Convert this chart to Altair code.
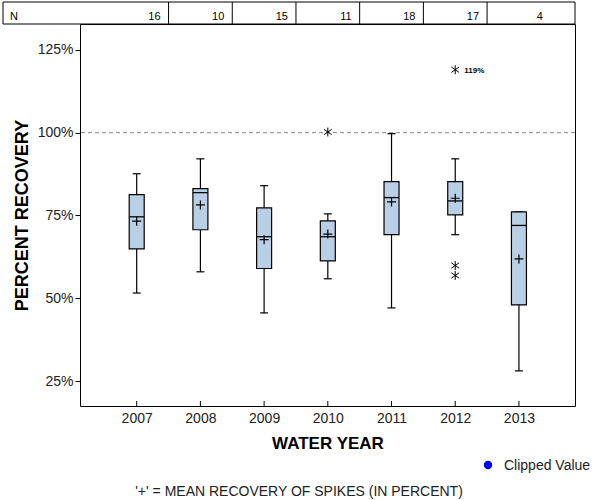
import altair as alt
import pandas as pd

# ---- data ----
years = [2007, 2008, 2009, 2010, 2011, 2012, 2013]
n_counts = [16, 10, 15, 11, 18, 17, 4]
whisk_lo = [51.6, 58.0, 45.6, 55.9, 47.1, 69.2, 28.1]
q1 = [64.9, 70.7, 59.0, 61.3, 69.2, 75.2, 48.0]
median = [74.6, 81.9, 68.6, 68.6, 80.4, 79.4, 72.0]
q3 = [81.3, 83.1, 77.3, 73.4, 85.2, 85.2, 76.1]
whisk_hi = [87.6, 92.1, 84.0, 75.5, 99.7, 92.1, 76.1]
means = [73.3, 78.2, 67.7, 69.4, 79.1, 80.2, 61.9]

outlier_years = [2010, 2012, 2012]
outlier_vals = [100.2, 59.9, 56.9]

clipped_years = [2012]
clipped_vals = [119.0]
clipped_labels = ["119%"]

ref_value = [100]
y_ticks = [25, 50, 75, 100, 125]

X_MIN, X_MAX = 2006.11, 2013.88
Y_MIN, Y_MAX = 17.5, 132.8
W, H = 495, 382
FONT = "Liberation Sans"
BOX_FILL = "#b9cfe6"

box = pd.DataFrame({"year": years, "n": n_counts, "lo": whisk_lo, "q1": q1,
                    "med": median, "q3": q3, "hi": whisk_hi, "mean": means})
outl = pd.DataFrame({"year": outlier_years, "val": outlier_vals})
clip = pd.DataFrame({"year": clipped_years, "val": clipped_vals, "lab": clipped_labels})
ref = pd.DataFrame({"v": ref_value})

xs = alt.Scale(domain=[X_MIN, X_MAX], nice=False, zero=False, padding=0)
ys = alt.Scale(domain=[Y_MIN, Y_MAX], nice=False, zero=False, padding=0)

x_axis = alt.Axis(values=years, format="d", ticks=False, domain=False, grid=False,
                  labelFont=FONT, labelFontSize=14, labelColor="#222", labelPadding=5,
                  title="WATER YEAR", titleFont=FONT, titleFontSize=17, titleFontWeight="bold",
                  titleColor="black", titlePadding=10)
y_axis = alt.Axis(values=y_ticks, labelExpr="datum.value + '%'", tickSize=5, tickColor="black",
                  domain=False, grid=False, labelFont=FONT, labelFontSize=14, labelColor="#222",
                  labelPadding=2, title="PERCENT RECOVERY", titleFont=FONT, titleFontSize=18,
                  titleFontWeight="bold", titleColor="black", titlePadding=6)


def XF(field="year"):
    return alt.X(f"{field}:Q", scale=xs, axis=x_axis)


def YF(field):
    return alt.Y(f"{field}:Q", scale=ys, axis=y_axis)


base = alt.Chart(box)

refline = alt.Chart(ref).mark_rule(color="#888888", strokeDash=[4, 3], strokeWidth=1).encode(
    y=YF("v"))

whisk_low = base.mark_rule(color="black", strokeWidth=1.2).encode(
    x=XF(), y=YF("lo"), y2="q1:Q")
whisk_high = base.mark_rule(color="black", strokeWidth=1.2).encode(
    x=XF(), y=YF("q3"), y2="hi:Q")

hline = "M-1,0L1,0"
cap_lo = base.mark_point(shape=hline, size=64, filled=False, color="black", strokeWidth=1.2,
                         opacity=1).encode(x=XF(), y=YF("lo"))
cap_hi = base.mark_point(shape=hline, size=64, filled=False, color="black", strokeWidth=1.2,
                         opacity=1).encode(x=XF(), y=YF("hi"))

boxes = base.mark_bar(size=15, fill=BOX_FILL, stroke="black", strokeWidth=1.2).encode(
    x=XF(), y=YF("q1"), y2="q3:Q")

med = base.mark_point(shape=hline, size=225, filled=False, color="black", strokeWidth=1.3,
                      opacity=1).encode(x=XF(), y=YF("med"))

plus = "M-1,0L1,0M0,-1L0,1"
meanm = base.mark_point(shape=plus, size=81, filled=False, color="black", strokeWidth=1.2,
                        opacity=1).encode(x=XF(), y=YF("mean"))

star = "M0,-1L0,1M-0.87,-0.6L0.87,0.6M-0.87,0.6L0.87,-0.6"
outm = alt.Chart(outl).mark_point(shape=star, size=80, filled=False, color="black",
                                  strokeWidth=1.0, opacity=1).encode(x=XF(), y=YF("val"))
clipm = alt.Chart(clip).mark_point(shape=star, size=80, filled=False, color="black",
                                   strokeWidth=1.0, opacity=1).encode(x=XF(), y=YF("val"))
clipt = alt.Chart(clip).mark_text(align="left", baseline="middle", dx=9, dy=1, font=FONT,
                                  fontSize=8, fontWeight="bold", color="black").encode(
    x=XF(), y=YF("val"), text="lab:N")

# inward x ticks
xticks = base.mark_rule(color="black", strokeWidth=1).encode(
    x=XF(), y=alt.value(H), y2=alt.value(H - 5))

# N table above the plot
table_top = -22
table_outline = alt.Chart(ref).mark_rect(fill=None, stroke="black", strokeWidth=1).encode(
    x=alt.value(-77), x2=alt.value(W), y=alt.value(table_top), y2=alt.value(0))
dividers = base.transform_filter(f"datum.year < {max(years)}").transform_calculate(
    edge="datum.year + 0.5").mark_rule(color="black", strokeWidth=1).encode(
    x=XF("edge"), y=alt.value(table_top), y2=alt.value(0))
ntext = base.transform_calculate(
    edge=f"min(datum.year + 0.5, {X_MAX})").mark_text(
    align="right", baseline="alphabetic", dx=-8, font=FONT, fontSize=11, color="black").encode(
    x=XF("edge"), y=alt.value(-4), text="n:Q")
nlabel = alt.Chart(ref).mark_text(align="left", baseline="alphabetic", font=FONT, fontSize=11,
                                  color="black").encode(
    x=alt.value(-70), y=alt.value(-4), text=alt.value("N"))

# legend & footnote
leg_dot = alt.Chart(ref).mark_point(shape="circle", filled=True, size=70, color="#0000ff",
                                    opacity=1).encode(x=alt.value(408), y=alt.value(441))
leg_txt = alt.Chart(ref).mark_text(align="left", baseline="middle", font=FONT, fontSize=14,
                                   color="#222").encode(
    x=alt.value(424), y=alt.value(442), text=alt.value("Clipped Value"))
foot = alt.Chart(ref).mark_text(align="center", baseline="middle", font=FONT, fontSize=14,
                                color="#222").encode(
    x=alt.value(219), y=alt.value(468),
    text=alt.value("'+' = MEAN RECOVERY OF SPIKES (IN PERCENT)"))

chart = alt.layer(
    refline, whisk_low, whisk_high, cap_lo, cap_hi, boxes, med, meanm, outm, clipm, clipt,
    xticks, table_outline, dividers, ntext, nlabel, leg_dot, leg_txt, foot
).properties(
    width=W, height=H,
    autosize=alt.AutoSizeParams(type="none"),
    padding={"left": 80, "top": 24, "right": 25, "bottom": 94},
    background="white",
).configure_view(stroke="black", strokeWidth=1)

chart.save("out.html", embed_options={"renderer": "svg", "actions": False})
